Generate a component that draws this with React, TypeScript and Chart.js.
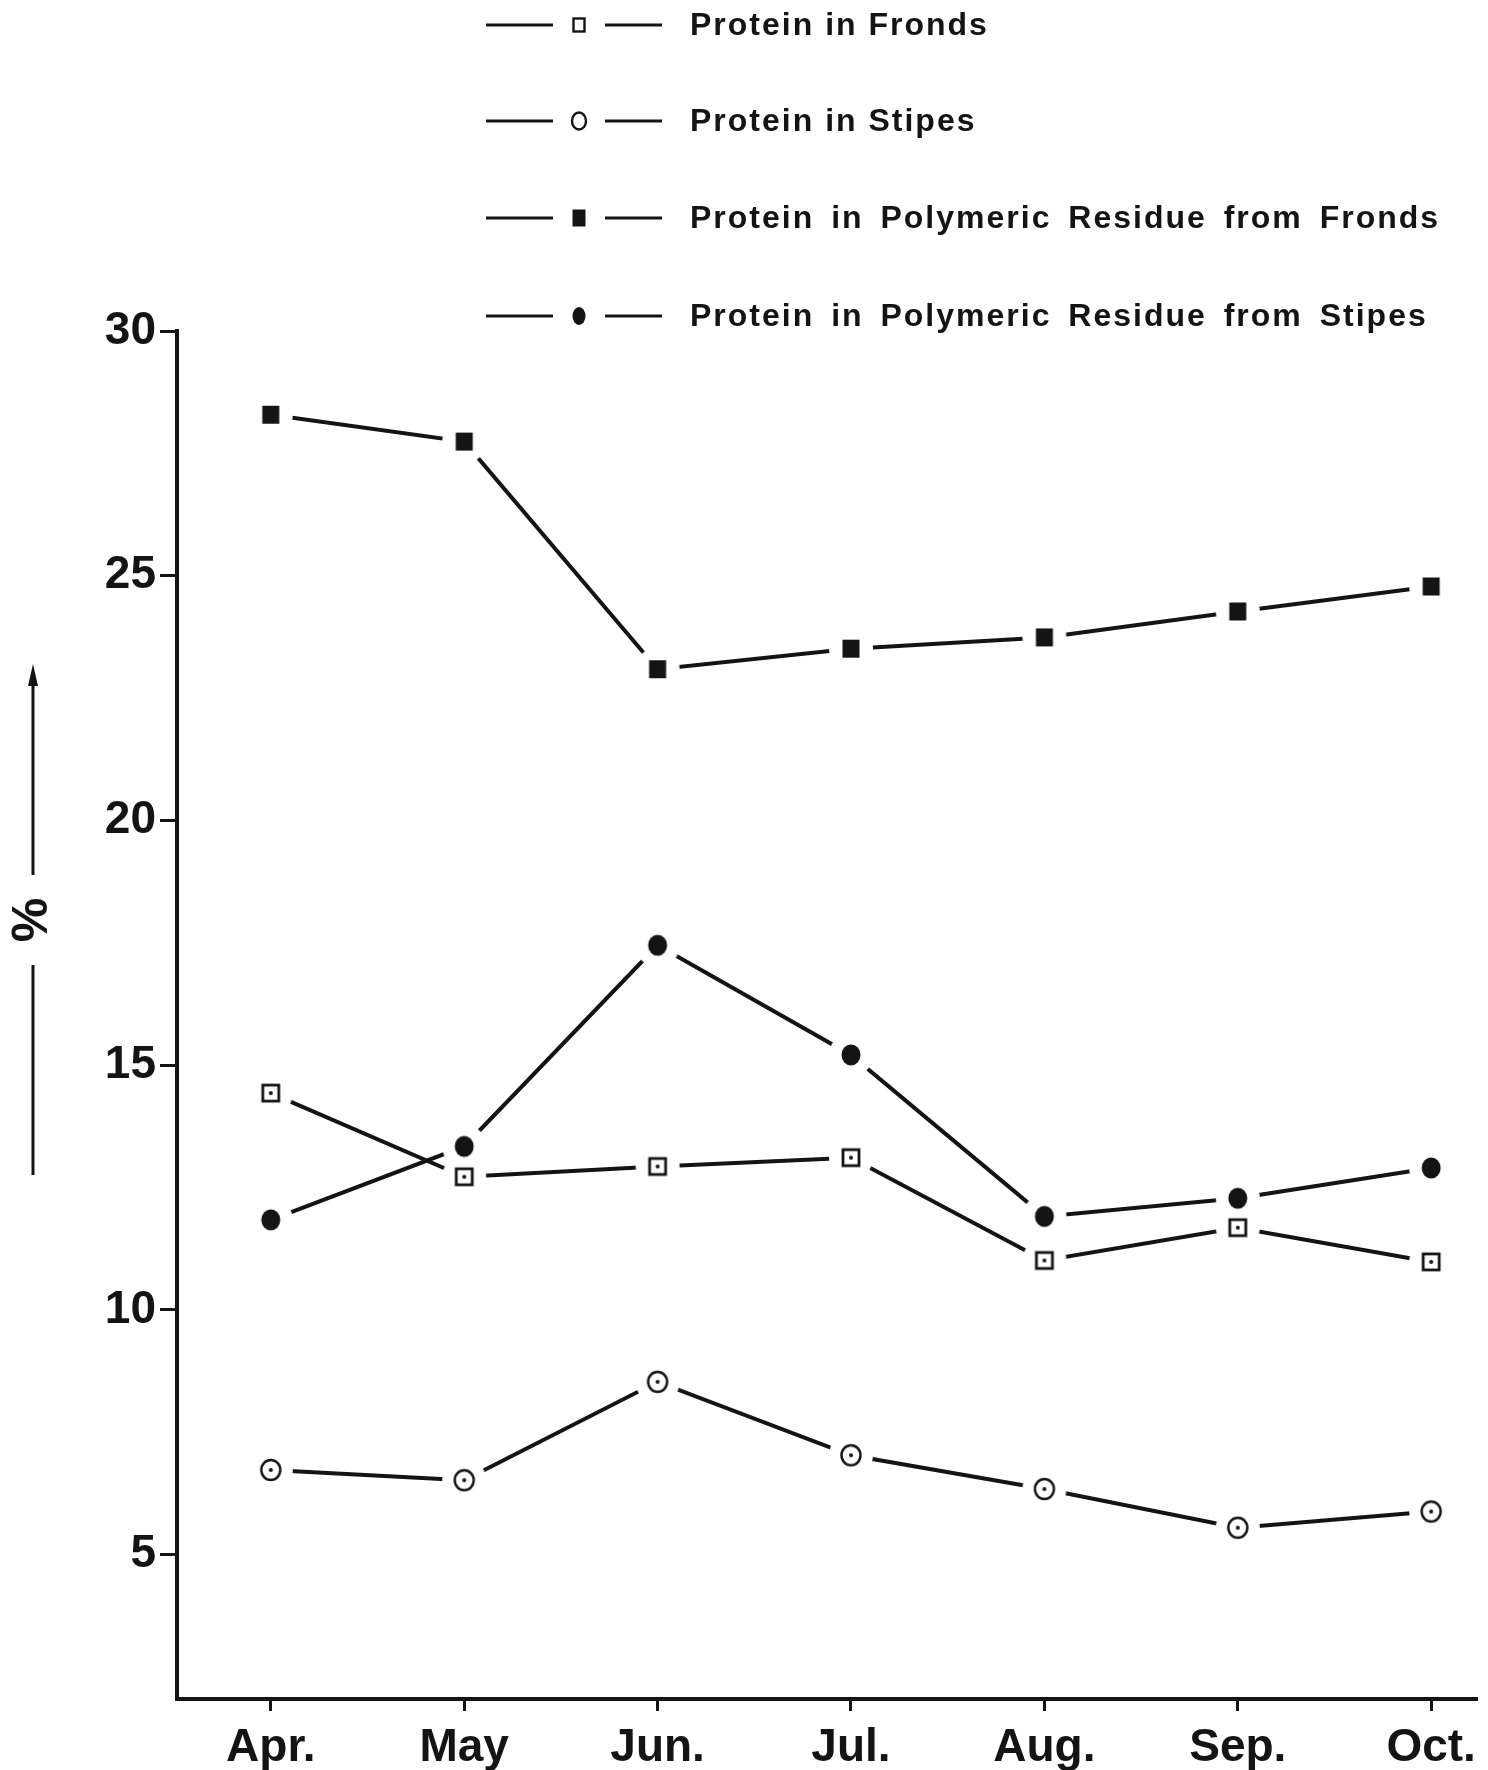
import React, { useEffect, useRef } from "react";
import { Chart, registerables } from "chart.js";

Chart.register(...registerables);

// ---- data ----
const months = ["Apr.", "May", "Jun.", "Jul.", "Aug.", "Sep.", "Oct."];
const monthIndex = [0, 1, 2, 3, 4, 5, 6];
const proteinFronds = [14.43, 12.72, 12.93, 13.11, 11.01, 11.68, 10.98];
const proteinStipes = [6.73, 6.52, 8.53, 7.03, 6.34, 5.55, 5.88];
const residueFronds = [28.29, 27.74, 23.09, 23.51, 23.74, 24.27, 24.78];
const residueStipes = [11.84, 13.34, 17.45, 15.21, 11.91, 12.28, 12.9];
const yTicks = [5, 10, 15, 20, 25, 30];
const seriesLabels = [
  "Protein in Fronds",
  "Protein in Stipes",
  "Protein in Polymeric Residue from Fronds",
  "Protein in Polymeric Residue from Stipes",
];
const markerKinds = ["openSquare", "openCircle", "filledSquare", "filledCircle"];
const yTitle = "%";

const INK = "#141414";
const FONT = "'Liberation Sans', Arial, Helvetica, sans-serif";
const HALO = 22;

function drawMarkerShape(ctx: CanvasRenderingContext2D, kind: string, cx: number, cy: number, legend: boolean) {
  ctx.save();
  ctx.fillStyle = INK;
  ctx.strokeStyle = INK;
  if (kind === "openSquare") {
    const w = legend ? 11 : 16;
    const h = legend ? 13 : 16;
    ctx.fillStyle = "#fff";
    ctx.fillRect(cx - w / 2, cy - h / 2, w, h);
    ctx.lineWidth = legend ? 2.4 : 2.8;
    ctx.strokeRect(cx - w / 2, cy - h / 2, w, h);
    if (!legend) {
      ctx.fillStyle = INK;
      ctx.beginPath();
      ctx.arc(cx, cy, 2, 0, Math.PI * 2);
      ctx.fill();
    }
  } else if (kind === "openCircle") {
    const rx = legend ? 7 : 9.5;
    const ry = legend ? 8.5 : 10;
    ctx.fillStyle = "#fff";
    ctx.beginPath();
    ctx.ellipse(cx, cy, rx, ry, 0, 0, Math.PI * 2);
    ctx.fill();
    ctx.lineWidth = 2.4;
    ctx.stroke();
    if (!legend) {
      ctx.fillStyle = INK;
      ctx.beginPath();
      ctx.arc(cx, cy, 2, 0, Math.PI * 2);
      ctx.fill();
    }
  } else if (kind === "filledSquare") {
    const w = legend ? 13 : 17;
    const h = legend ? 17 : 18;
    ctx.fillRect(cx - w / 2, cy - h / 2, w, h);
  } else {
    ctx.beginPath();
    ctx.ellipse(cx, cy, legend ? 6.5 : 9.5, legend ? 9 : 10.5, 0, 0, Math.PI * 2);
    ctx.fill();
  }
  ctx.restore();
}

function makeHalo(): HTMLCanvasElement {
  const size = HALO * 2 + 2;
  const c = document.createElement("canvas");
  c.width = size;
  c.height = size;
  const ctx = c.getContext("2d")!;
  ctx.fillStyle = "#fff";
  ctx.beginPath();
  ctx.arc(size / 2, size / 2, HALO, 0, Math.PI * 2);
  ctx.fill();
  return c;
}

function makeMarker(kind: string): HTMLCanvasElement {
  const size = 30;
  const c = document.createElement("canvas");
  c.width = size;
  c.height = size;
  const ctx = c.getContext("2d")!;
  drawMarkerShape(ctx, kind, size / 2, size / 2, false);
  return c;
}

const decorPlugin = {
  id: "decor",
  afterDraw(chart: any) {
    const ctx: CanvasRenderingContext2D = chart.ctx;
    ctx.save();
    // legend
    const rowsY = [25, 121, 218, 316];
    seriesLabels.forEach((label, i) => {
      const y = rowsY[i];
      ctx.strokeStyle = INK;
      ctx.lineWidth = 2.8;
      ctx.beginPath();
      ctx.moveTo(486, y);
      ctx.lineTo(553, y);
      ctx.moveTo(605, y);
      ctx.lineTo(662, y);
      ctx.stroke();
      drawMarkerShape(ctx, markerKinds[i], 579, y, true);
      ctx.fillStyle = INK;
      ctx.font = `bold 32px ${FONT}`;
      (ctx as any).letterSpacing = "2px";
      (ctx as any).wordSpacing = i >= 2 ? "6px" : "0px";
      ctx.textAlign = "left";
      ctx.textBaseline = "middle";
      ctx.fillText(label, 690, y + 1);
    });
    (ctx as any).letterSpacing = "0px";
    (ctx as any).wordSpacing = "0px";
    // y title with arrow
    const ax = 33;
    ctx.strokeStyle = INK;
    ctx.lineWidth = 3;
    ctx.beginPath();
    ctx.moveTo(ax, 680);
    ctx.lineTo(ax, 875);
    ctx.moveTo(ax, 965);
    ctx.lineTo(ax, 1175);
    ctx.stroke();
    ctx.fillStyle = INK;
    ctx.beginPath();
    ctx.moveTo(ax, 664);
    ctx.lineTo(ax - 5, 686);
    ctx.lineTo(ax + 5, 686);
    ctx.closePath();
    ctx.fill();
    ctx.translate(ax, 920);
    ctx.rotate(-Math.PI / 2);
    ctx.font = `bold 50px ${FONT}`;
    ctx.textAlign = "center";
    ctx.textBaseline = "middle";
    ctx.fillText(yTitle, 0, 0);
    ctx.restore();
  },
};

export default function App() {
  const ref = useRef<HTMLCanvasElement | null>(null);

  useEffect(() => {
    if (!ref.current) return;
    const series = [proteinFronds, proteinStipes, residueFronds, residueStipes];
    const halo = makeHalo();
    const datasets: any[] = [];
    series.forEach((arr, i) => {
      const pts = monthIndex.map((x, j) => ({ x, y: arr[j] }));
      // connecting line
      datasets.push({
        label: seriesLabels[i],
        data: pts,
        borderColor: INK,
        backgroundColor: INK,
        borderWidth: 4,
        pointRadius: 0,
        tension: 0,
        order: 3,
      });
      // white gap around each marker
      datasets.push({
        label: seriesLabels[i] + " gap",
        data: pts,
        showLine: false,
        pointStyle: halo as any,
        pointRadius: 10,
        order: 2,
      });
      // marker
      datasets.push({
        label: seriesLabels[i] + " marker",
        data: pts,
        showLine: false,
        pointStyle: makeMarker(markerKinds[i]) as any,
        pointRadius: 10,
        order: 1,
      });
    });
    const tickFont = { family: FONT, size: 46, weight: "bold" as const };
    const chart = new Chart(ref.current, {
      type: "line",
      data: { datasets },
      plugins: [decorPlugin],
      options: {
        animation: false,
        responsive: false,
        maintainAspectRatio: false,
        layout: { padding: { top: 331, left: 0, right: 8, bottom: 0 } },
        plugins: { legend: { display: false }, tooltip: { enabled: false } },
        scales: {
          x: {
            type: "linear",
            min: -0.485,
            max: 6.237,
            afterBuildTicks: (s: any) => {
              s.ticks = monthIndex.map((v) => ({ value: v }));
            },
            afterFit: (s: any) => {
              s.height = 71;
            },
            ticks: {
              callback: (v: any) => months[v as number],
              font: tickFont,
              color: INK,
              padding: 10,
              autoSkip: false,
              maxRotation: 0,
            },
            grid: { drawOnChartArea: false, tickLength: 12, tickWidth: 3, color: INK },
            border: { width: 4, color: INK },
          },
          y: {
            type: "linear",
            min: 2.05,
            max: 30,
            afterBuildTicks: (s: any) => {
              s.ticks = yTicks.map((v) => ({ value: v }));
            },
            afterFit: (s: any) => {
              s.width = 177;
            },
            ticks: { font: tickFont, color: INK, padding: 4 },
            grid: { drawOnChartArea: false, tickLength: 17, tickWidth: 3, color: INK },
            border: { width: 4, color: INK },
          },
        },
      },
    });
    return () => chart.destroy();
  }, []);

  return (
    <div style={{ position: "absolute", left: 0, top: 0, width: 1488, height: 1770, background: "#fff" }}>
      <canvas ref={ref} width={1488} height={1770} style={{ width: 1488, height: 1770, display: "block" }} />
    </div>
  );
}
